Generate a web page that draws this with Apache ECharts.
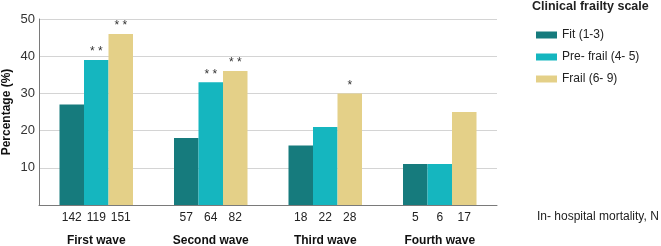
<!DOCTYPE html>
<html>
<head>
<meta charset="utf-8">
<script src="https://cdn.jsdelivr.net/npm/echarts@6/dist/echarts.min.js"></script>
<style>
  html, body { margin: 0; padding: 0; background: #fff; }
  #frailtyChart { width: 661px; height: 246px; }
</style>
</head>
<body>
<div id="frailtyChart"></div>
<script>
const waves = ['First wave', 'Second wave', 'Third wave', 'Fourth wave'];
const groupNames = ['Fit (1-3)', 'Pre- frail (4- 5)', 'Frail (6- 9)'];
const fitPct = [27, 18, 16, 11];
const preFrailPct = [39, 33, 21, 11];
const frailPct = [46, 36, 30, 25];
// significance stars over each bar
const fitStars = ['', '', '', ''];
const preFrailStars = ['* *', '* *', '', ''];
const frailStars = ['* *', '* *', '*', ''];
// in-hospital mortality N, per wave: fit, pre-frail, frail
const mortalityN = [[142, 119, 151], [57, 64, 82], [18, 22, 28], [5, 6, 17]];
const yTicks = [10, 20, 30, 40, 50];

const colors = ['#167b7d', '#15b6bf', '#e4d088'];
const fontFamily = '"Liberation Sans", Arial, sans-serif';

function barSeries(name, values, stars, color) {
  return {
    name: name,
    type: 'bar',
    data: values,
    barWidth: 24.5,
    barGap: 0,
    itemStyle: {color: color},
    label: {
      show: true,
      position: 'top',
      distance: 2,
      color: '#333',
      fontSize: 12,
      fontFamily: fontFamily,
      formatter: function (p) { return stars[p.dataIndex]; }
    }
  };
}

const option = {
  animation: false,
  textStyle: {fontFamily: fontFamily},
  grid: {left: 39, right: 164, top: 19, bottom: 41, containLabel: false, outerBoundsMode: 'none'},
  graphic: [
    {
      type: 'text', left: 532, top: 0,
      style: {text: 'Clinical frailty scale', font: 'bold 12.5px ' + fontFamily, fill: '#222'}
    },
    {
      type: 'text', left: 537, top: 211,
      style: {text: 'In- hospital mortality, N', font: '12px ' + fontFamily, fill: '#222'}
    }
  ],
  legend: {
    orient: 'vertical',
    left: 531,
    top: 24,
    itemWidth: 21,
    itemHeight: 7,
    itemGap: 10,
    icon: 'rect',
    textStyle: {fontSize: 12, color: '#222'},
    data: groupNames
  },
  xAxis: {
    type: 'category',
    data: waves,
    axisLine: {lineStyle: {color: '#7a7a7a', width: 1}},
    axisTick: {show: false},
    axisLabel: {
      interval: 0,
      margin: 5,
      formatter: function (value, idx) {
        const n = mortalityN[idx];
        return '{n|' + n[0] + '}{n|' + n[1] + '}{n|' + n[2] + '}\n{w|' + value + '}';
      },
      rich: {
        n: {width: 24.5, align: 'center', fontSize: 12, color: '#222', lineHeight: 16},
        w: {fontSize: 12, fontWeight: 'bold', color: '#111', lineHeight: 30}
      }
    }
  },
  yAxis: {
    type: 'value',
    min: 0,
    max: 50,
    interval: 10,
    name: 'Percentage (%)',
    nameLocation: 'middle',
    nameGap: 26,
    nameMoveOverlap: false,
    nameTextStyle: {fontSize: 12, fontWeight: 'bold', color: '#111'},
    axisLine: {show: true, lineStyle: {color: '#7a7a7a'}},
    axisTick: {show: false},
    axisLabel: {
      margin: 4,
      fontSize: 13,
      color: '#333',
      formatter: function (v) { return yTicks.indexOf(v) >= 0 ? String(v) : ''; }
    },
    splitLine: {lineStyle: {color: '#d4d4d4'}}
  },
  series: [
    barSeries(groupNames[0], fitPct, fitStars, colors[0]),
    barSeries(groupNames[1], preFrailPct, preFrailStars, colors[1]),
    barSeries(groupNames[2], frailPct, frailStars, colors[2])
  ]
};

const chart = echarts.init(document.getElementById('frailtyChart'), null, {renderer: 'canvas'});
chart.setOption(option);
</script>
</body>
</html>
